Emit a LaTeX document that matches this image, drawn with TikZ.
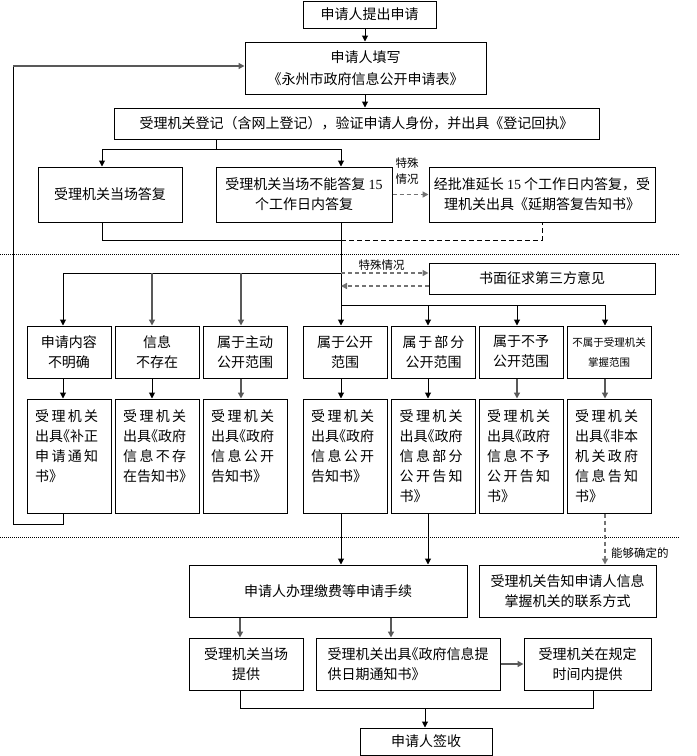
\documentclass[tikz,border=0pt]{standalone}
\usepackage{fontspec}
\setmainfont{Noto Sans CJK SC}
\newfontfamily\tnr{Liberation Serif}
\usetikzlibrary{arrows.meta}
\newcommand\hb{\makebox[0.5em][r]{《}}
\def\spx#1{\ifx#1\relax\unskip\else#1\hfil\expandafter\spx\fi}
\newcommand\sline[2][63pt]{\makebox[#1][s]{\spx#2\relax}}
\begin{document}
\begin{tikzpicture}[x=1pt,y=-1pt,
  box/.style={draw, line width=1pt, inner sep=1pt, align=center,
    font=\fontsize{14pt}{20pt}\selectfont},
  lbox/.style={draw, line width=1pt, minimum width=84pt, minimum height=114pt, inner sep=0pt},
  ltext/.style={anchor=base west, inner sep=0pt, font=\fontsize{14pt}{20pt}\selectfont},
  lbl/.style={inner sep=0pt, align=center, font=\fontsize{11.5pt}{16pt}\selectfont},
  arr/.style={-{Triangle[length=6pt,width=6pt]}, line width=1pt},
  garr/.style={-{Triangle[length=6pt,width=6pt]}, line width=1.4pt, draw=black!65},
  gline/.style={line width=1.4pt, draw=black!65},
  dashg/.style={line width=1.5pt, draw=black!55, dash pattern=on 4pt off 3pt},
  dashk/.style={line width=1pt, draw=black, dash pattern=on 5pt off 3pt},
  dotl/.style={line width=0.8pt, draw=black, dash pattern=on 1pt off 1pt}]
\fill[white] (0,0) rectangle (697,756);
\useasboundingbox (0,0) rectangle (697,756);

% guide coordinates
\coordinate (xa) at (63,0);
\coordinate (xb) at (152,0);
\coordinate (xc) at (241,0);
\coordinate (xt) at (341,0);
\coordinate (xe) at (428,0);
\coordinate (xf) at (517,0);
\coordinate (xg) at (605,0);
\coordinate (x102) at (102,0);
\coordinate (x216) at (216,0);
\coordinate (x365) at (365,0);
\coordinate (x542) at (542,0);
\coordinate (x13) at (13,0);
\coordinate (x240) at (240,0);
\coordinate (x391) at (391,0);
\coordinate (x593) at (593,0);
\coordinate (x425) at (425,0);
\coordinate (yfb2) at (0,66);
\coordinate (yb1) at (0,149);
\coordinate (yj1) at (0,240);
\coordinate (ybr) at (0,273);
\coordinate (yback) at (0,286);
\coordinate (ytr) at (0,305);
\coordinate (yfb) at (0,524);
\coordinate (yj2) at (0,708);

% separators
\coordinate (s1a) at (0,254); \coordinate (s1b) at (680,254);
\coordinate (s2a) at (0,537); \coordinate (s2b) at (680,537);
\draw[dotl] (s1a) -- (s1b);
\draw[dotl] (s2a) -- (s2b);

% top part
\node[box, minimum width=133pt, minimum height=27pt] (n1) at (369.5,14.5) {申请人提出申请};
\node[box, minimum width=241pt, minimum height=52pt, font=\fontsize{14pt}{22pt}\selectfont] (n2) at (365.5,68) {申请人填写\\《永州市政府信息公开申请表》};
\node[box, minimum width=485pt, minimum height=31pt] (n3) at (356.5,123.5) {受理机关登记（含网上登记），验证申请人身份，并出具《登记回执》};
\node[box, minimum width=144pt, minimum height=55pt] (n4) at (110,194.5) {受理机关当场答复};
\node[box, minimum width=176pt, minimum height=55pt] (n5) at (304,194.5) {受理机关当场不能答复 {\tnr 15}\\个工作日内答复};
\node[box, minimum width=226pt, minimum height=55pt] (n6) at (542,194.5) {经批准延长 {\tnr 15} 个工作日内答复，受\\理机关出具《延期答复告知书》};
\node[box, minimum width=226pt, minimum height=31pt] (n7) at (542,278.5) {书面征求第三方意见};
\node[lbl] (l1) at (407,171) {特殊\\情况};
\node[lbl] (l2) at (381.5,265) {特殊情况};

% row of category boxes
\node[box, minimum width=84pt, minimum height=52pt] (ra) at (69,352) {申请内容\\不明确};
\node[box, minimum width=84pt, minimum height=52pt] (rb) at (157,352) {信息\\不存在};
\node[box, minimum width=84pt, minimum height=52pt] (rc) at (245,352) {属于主动\\公开范围};
\node[box, minimum width=84pt, minimum height=52pt] (rd) at (345,352) {属于公开\\范围};
\node[box, minimum width=84pt, minimum height=52pt] (re) at (433.5,352) {\sline[62pt]{属于部分}\\公开范围};
\node[box, minimum width=84pt, minimum height=52pt] (rf) at (521,352) {属于不予\\公开范围};
\node[box, minimum width=84pt, minimum height=52pt, font=\fontsize{10.5pt}{20pt}\selectfont] (rg) at (609,352) {不属于受理机关\\掌握范围};

% lower notice boxes
\node[lbox] (la) at (69,456) {};
\node[lbox] (lb) at (157,456) {};
\node[lbox] (lc) at (245,456) {};
\node[lbox] (ld) at (345,456) {};
\node[lbox] (le) at (433.5,456) {};
\node[lbox] (lf) at (521,456) {};
\node[lbox] (lg) at (609,456) {};
\node[ltext] (ta) at ([xshift=8.5pt,yshift=-23pt]la.north west) {\parbox[t]{74pt}{\sline{受理机关}\\\sline{出具\hb 补正}\\\sline{申请通知}\\书》}};
\node[ltext] (tb) at ([xshift=8.5pt,yshift=-23pt]lb.north west) {\parbox[t]{74pt}{\sline{受理机关}\\\sline{出具\hb 政府}\\\sline{信息不存}\\在告知书》}};
\node[ltext] (tc) at ([xshift=8.5pt,yshift=-23pt]lc.north west) {\parbox[t]{74pt}{\sline{受理机关}\\\sline{出具\hb 政府}\\\sline{信息公开}\\告知书》}};
\node[ltext] (td) at ([xshift=8.5pt,yshift=-23pt]ld.north west) {\parbox[t]{74pt}{\sline{受理机关}\\\sline{出具\hb 政府}\\\sline{信息公开}\\告知书》}};
\node[ltext] (te) at ([xshift=8.5pt,yshift=-23pt]le.north west) {\parbox[t]{74pt}{\sline{受理机关}\\\sline{出具\hb 政府}\\\sline{信息部分}\\\sline{公开告知}\\书》}};
\node[ltext] (tf) at ([xshift=8.5pt,yshift=-23pt]lf.north west) {\parbox[t]{74pt}{\sline{受理机关}\\\sline{出具\hb 政府}\\\sline{信息不予}\\\sline{公开告知}\\书》}};
\node[ltext] (tg) at ([xshift=8.5pt,yshift=-23pt]lg.north west) {\parbox[t]{74pt}{\sline{受理机关}\\\sline{出具\hb 非本}\\\sline{机关政府}\\\sline{信息告知}\\书》}};

% bottom part
\node[box, minimum width=278pt, minimum height=52pt] (P) at (328,591) {申请人办理缴费等申请手续};
\node[box, minimum width=177pt, minimum height=52pt] (Q) at (567.5,591) {受理机关告知申请人信息\\掌握机关的联系方式};
\node[box, minimum width=114pt, minimum height=52pt] (A) at (246,664) {受理机关当场\\提供};
\node[box, minimum width=184pt, minimum height=52pt, align=left] (B) at (408,664) {受理机关出具\hb 政府信息提\\供日期通知书》};
\node[box, minimum width=127pt, minimum height=52pt] (C) at (587.5,664) {受理机关在规定\\时间内提供};
\node[box, minimum width=132pt, minimum height=27pt] (S) at (426,741.5) {申请人签收};
\node[lbl, anchor=west] (l3) at (611,553) {能够确定的};

% connectors: top
\draw[arr] ([xshift=-4.5pt]n1.south) -- (n2.north -| x365);
\draw[arr] (n2.south -| x365) -- (n3.north -| x365);
\draw (n3.south -| x216) -- (x216 |- yb1);
\draw (x102 |- yb1) -- (xt |- yb1);
\draw[arr] (x102 |- yb1) -- (n4.north -| x102);
\draw[arr] (xt |- yb1) -- (n5.north -| xt);
\draw[dashg, -{Triangle[length=6pt,width=6pt]}] (n5.east) -- (n6.west);
\draw (n4.south -| x102) -- (x102 |- yj1) -- (xt |- yj1);
\draw[dashk] (xt |- yj1) -- (x542 |- yj1) -- (n6.south -| x542);

% trunk and branches
\draw[line width=1pt] (n5.south -| xt) -- (xt |- ytr);
\draw[line width=1pt] (xt |- ybr) -- (xa |- ybr);
\draw[dashg, -{Triangle[length=6pt,width=6pt]}] (xt |- ybr) -- (n7.west |- ybr);
\draw[dashg, -{Triangle[length=6pt,width=6pt]}] (n7.west |- yback) -- (xt |- yback);
\draw[line width=1pt] (xt |- ytr) -- (xg |- ytr);
\draw[arr] (xa |- ybr) -- (ra.north -| xa);
\draw[garr] (xb |- ybr) -- (rb.north -| xb);
\draw[garr] (xc |- ybr) -- (rc.north -| xc);
\draw[arr] (xt |- ytr) -- (rd.north -| xt);
\draw[arr] (xe |- ytr) -- (re.north -| xe);
\draw[arr] (xf |- ytr) -- (rf.north -| xf);
\draw[arr] (xg |- ytr) -- (rg.north -| xg);

\draw[arr] (ra.south -| xa) -- (la.north -| xa);
\draw[arr] (rb.south -| xb) -- (lb.north -| xb);
\draw[garr] (rc.south -| xc) -- (lc.north -| xc);
\draw[arr] (rd.south -| xt) -- (ld.north -| xt);
\draw[arr] (re.south -| xe) -- (le.north -| xe);
\draw[garr] (rf.south -| xf) -- (lf.north -| xf);
\draw[garr] (rg.south -| xg) -- (lg.north -| xg);

% feedback loop
\draw[line width=1pt] (la.south -| xa) -- (xa |- yfb) -- (x13 |- yfb) -- (x13 |- yfb2);
\draw[garr] (x13 |- yfb2) -- (n2.west |- yfb2);

% connectors: bottom
\draw[arr] (ld.south -| xt) -- (P.north -| xt);
\draw[arr] (le.south -| xe) -- (P.north -| xe);
\draw[dashg, -{Triangle[length=6pt,width=6pt]}] (lg.south -| xg) -- (Q.north -| xg);
\draw[garr] (P.south -| x240) -- (A.north -| x240);
\draw[garr] (P.south -| x391) -- (B.north -| x391);
\draw[garr] (B.east) -- (C.west);
\draw[line width=1pt] (A.south -| x240) -- (x240 |- yj2) -- (x593 |- yj2) -- (C.south -| x593);
\draw[arr] (x425 |- yj2) -- (S.north -| x425);
\end{tikzpicture}
\end{document}
